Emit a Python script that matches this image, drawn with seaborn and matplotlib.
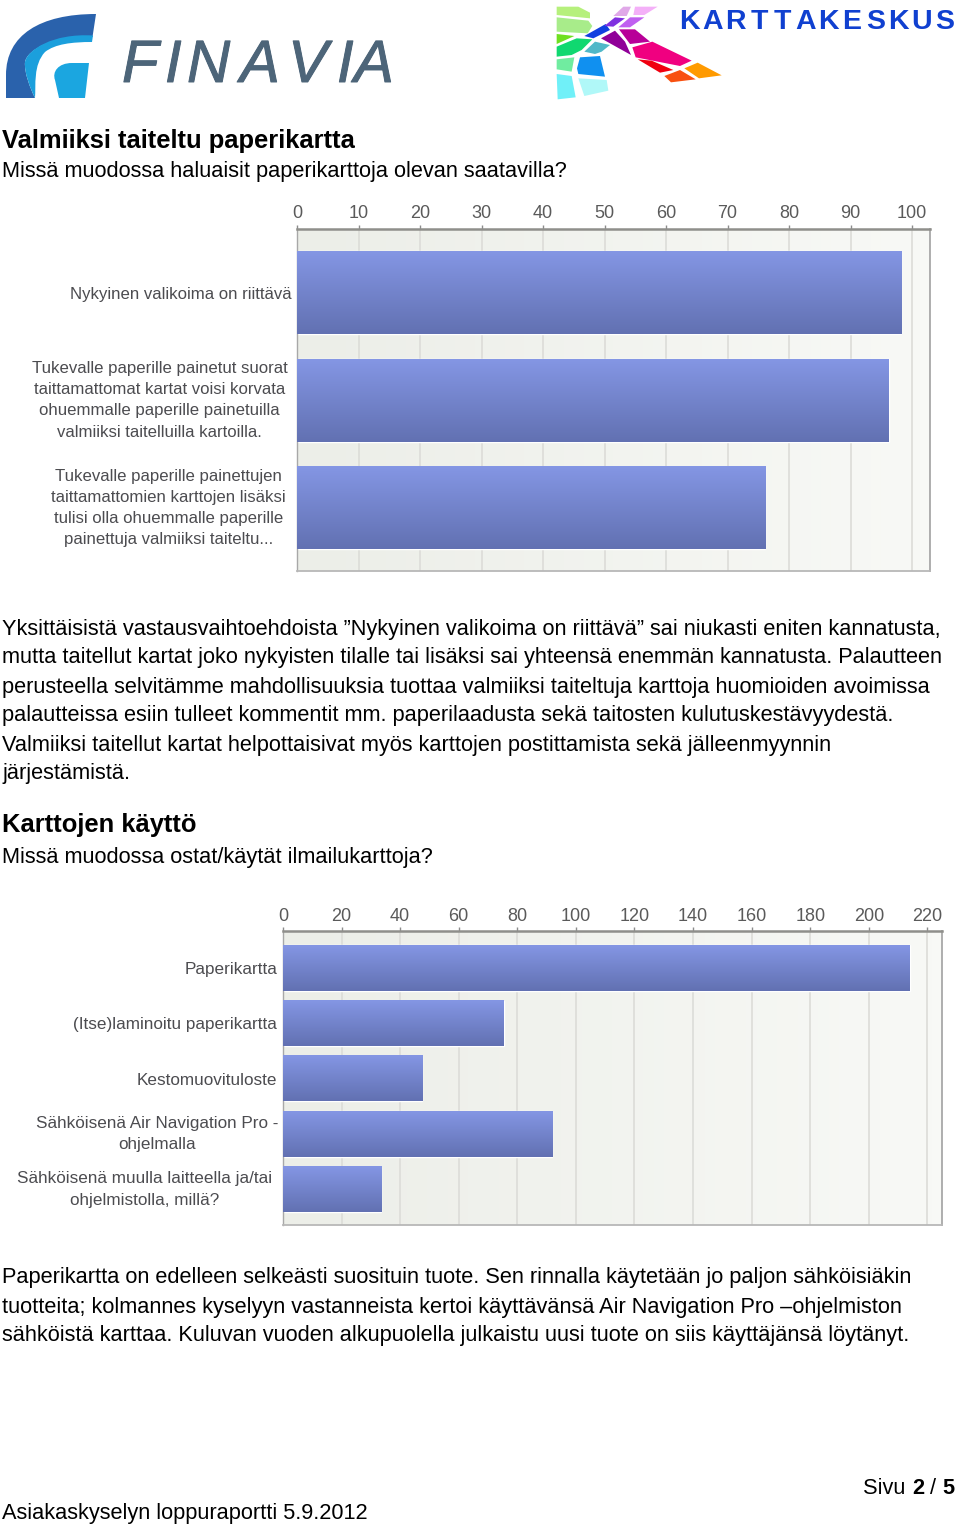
import matplotlib
matplotlib.use("Agg")
import matplotlib.pyplot as plt
import matplotlib.patheffects as pe
import numpy as np
import pandas as pd
import seaborn as sns
from matplotlib.colors import to_rgb
from matplotlib.patches import PathPatch, Polygon
from matplotlib.path import Path

# Data of both charts
folded_labels = [
    "Nykyinen valikoima on riittävä",
    "Tukevalle paperille painetut suorat\ntaittamattomat kartat voisi korvata\nohuemmalle paperille painetuilla\nvalmiiksi taitelluilla kartoilla.",
    "Tukevalle paperille painettujen\ntaittamattomien karttojen lisäksi\ntulisi olla ohuemmalle paperille\npainettuja valmiiksi taiteltu...",
]
folded_values = [98.2, 96.2, 76.1]
folded_ticks = [0, 10, 20, 30, 40, 50, 60, 70, 80, 90, 100]

usage_labels = [
    "Paperikartta",
    "(Itse)laminoitu paperikartta",
    "Kestomuovituloste",
    "Sähköisenä Air Navigation Pro -\nohjelmalla",
    "Sähköisenä muulla laitteella ja/tai\nohjelmistolla, millä?",
]
usage_values = [214, 75.4, 47.6, 92, 33.6]
usage_ticks = [0, 20, 40, 60, 80, 100, 120, 140, 160, 180, 200, 220]

W, H = 960, 1525
BODY = "Liberation Sans"

sns.set_theme(style="white")
plt.rcParams["font.family"] = [BODY, "DejaVu Sans"]

fig = plt.figure(figsize=(W / 100, H / 100), dpi=100, facecolor="white")


def gradient(c1, c2, horizontal=False):
    img = np.linspace(to_rgb(c1), to_rgb(c2), 64)
    return img[None, :, :] if horizontal else img[:, None, :]


def draw_chart(labels, values, ticks, box, xlim, ylim, bar_width, pads, label_size, tick_pad):
    left, top, right, bottom = box
    ax = fig.add_axes([left / W, 1 - bottom / H, (right - left) / W, (bottom - top) / H])
    df = pd.DataFrame({"label": labels, "value": values})
    sns.barplot(data=df, x="value", y="label", orient="h", color="#7282c8",
                width=bar_width, saturation=1, ax=ax)

    # the bars have a vertical gradient
    for bar in ax.patches:
        x0, y0, w, h = bar.get_x(), bar.get_y(), bar.get_width(), bar.get_height()
        ax.imshow(gradient("#8496e4", "#6271b2"), extent=(x0, x0 + w, y0 + h, y0),
                  origin="upper", aspect="auto", zorder=3)
    ax.imshow(gradient("#eceee8", "#f8f9f6", horizontal=True),
              extent=(xlim[0], xlim[1], ylim[1], ylim[0]),
              origin="upper", aspect="auto", zorder=0)

    ax.set_xlim(*xlim)
    ax.set_ylim(ylim[1], ylim[0])
    ax.set_xlabel("")
    ax.set_ylabel("")
    ax.set_xticks(ticks)
    ax.xaxis.tick_top()
    ax.grid(axis="x", color="#dcdcd8", linewidth=1.2)
    ax.set_axisbelow(True)
    ax.tick_params(axis="x", length=3, width=1, color="#8c8c8c", pad=tick_pad,
                   labelsize=13, labelcolor="#5a5a5a")
    ax.tick_params(axis="y", length=0, labelsize=label_size, labelcolor="#4c4c50")
    for lab in ax.get_yticklabels():
        lab.set_multialignment("center")
        lab.set_linespacing(1.52)
        if "\n" in lab.get_text():
            lab.set_verticalalignment("center")
    for tick, pad in zip(ax.yaxis.get_major_ticks(), pads):
        tick.set_pad(pad)

    for side, col, lw in [("top", "#8f8f8b", 1.8), ("right", "#a8a8a8", 1.3),
                          ("bottom", "#b8b8b8", 1.3), ("left", "#a8a8a8", 1.0)]:
        ax.spines[side].set_visible(True)
        ax.spines[side].set_color(col)
        ax.spines[side].set_linewidth(lw)
    return ax


draw_chart(folded_labels, folded_values, folded_ticks,
           (297, 229, 930, 571), (0, 102.9), (-0.59, 2.585), 0.77, [3.6, 7, 8], 12.05, 1.8)
draw_chart(usage_labels, usage_values, usage_ticks,
           (283, 931, 942, 1225), (0, 225), (-0.668, 4.64), 0.82, [4.3, 4.3, 4.3, 3.6, 8], 12.3, 1.0)

# Overlay in pixel coordinates for page text and logos
page = fig.add_axes([0, 0, 1, 1], zorder=-1)
page.set_xlim(0, W)
page.set_ylim(H, 0)
page.axis("off")


def curve(*segments, color):
    verts, codes = [], []
    for seg in segments:
        if len(seg) == 1:
            verts += seg
            codes += [Path.MOVETO if not codes else Path.LINETO]
        else:
            verts += seg
            codes += [Path.CURVE4] * 3
    verts.append(verts[0])
    codes.append(Path.CLOSEPOLY)
    page.add_patch(PathPatch(Path(verts, codes), facecolor=color, edgecolor="none"))


# Finavia logo
curve([(6, 98)], [(6, 75)], [(6, 35), (40, 14), (96, 14)], [(92.5, 37)],
      [(53, 35), (27, 50), (25, 62)], [(24, 72), (30, 88), (35, 98)], color="#2a62ac")
curve([(93, 35.5)], [(53, 33), (27, 50), (25, 62)], [(24, 72), (30, 88), (35, 98)],
      [(36, 85), (33, 65), (45, 52)], [(55, 44), (72, 42), (92, 42)], color="#1b9fdc")
curve([(89, 63)], [(72, 63)], [(58, 63), (52, 72), (55, 80)], [(59, 98)], [(85, 98)], color="#1ba6e0")
for ch, x in zip("FINAVIA", [122, 165, 187, 240, 288, 337, 354]):
    page.text(x, 82, ch, fontsize=43, style="italic", color="#4d6579", va="baseline", ha="left",
              path_effects=[pe.withStroke(linewidth=0.7, foreground="#4d6579")])

# Karttakeskus logo, points in zoomed crop coordinates
k_shapes = [
    ("#b6f07c", [(35, 20), (100, 20), (135, 38), (135, 55), (35, 45)]),
    ("#a8ec8a", [(35, 52), (130, 62), (142, 78), (128, 100), (35, 95)]),
    ("#6fe020", [(35, 102), (88, 108), (35, 132)]),
    ("#10d870", [(35, 140), (95, 115), (142, 118), (110, 150), (80, 165), (35, 170)]),
    ("#50b8c8", [(118, 155), (150, 125), (195, 135), (170, 155), (150, 162)]),
    ("#70eca0", [(35, 178), (88, 172), (80, 215), (35, 208)]),
    ("#1090f0", [(105, 172), (165, 168), (180, 230), (100, 222), (96, 205)]),
    ("#70f0f8", [(35, 222), (80, 228), (92, 292), (38, 298)]),
    ("#b0f8f8", [(100, 235), (185, 240), (190, 272), (118, 288)]),
    ("#1040e0", [(118, 108), (182, 72), (195, 90), (145, 115)]),
    ("#8030e0", [(178, 78), (210, 52), (240, 55), (205, 80)]),
    ("#e0a8e8", [(205, 48), (235, 20), (258, 20), (245, 48)]),
    ("#c060f0", [(220, 82), (255, 52), (298, 52), (255, 82)]),
    ("#f4b0f8", [(265, 45), (270, 20), (338, 20), (298, 45)]),
    ("#900098", [(168, 115), (210, 92), (240, 125), (258, 165)]),
    ("#b80098", [(222, 88), (270, 88), (315, 125), (255, 132)]),
    ("#f00080", [(262, 142), (322, 125), (440, 182), (405, 198), (272, 172)]),
    ("#f00010", [(278, 178), (320, 182), (385, 210), (345, 218)]),
    ("#f85010", [(358, 228), (405, 210), (452, 238), (378, 247)]),
    ("#ff9a00", [(418, 205), (458, 188), (530, 226), (462, 235)]),
]
for col, pts in k_shapes:
    page.add_patch(Polygon([(x / 3 + 545, y / 3) for x, y in pts], closed=True,
                           facecolor=col, edgecolor="none"))
for ch, x in zip("KARTTAKESKUS", np.linspace(689, 945, 12)):
    page.text(x, 29, ch, fontsize=20.5, fontweight="bold", color="#1040d0", ha="center", va="baseline")

# Page text
bold_lines = [("Valmiiksi taiteltu paperikartta", 141), ("Karttojen käyttö", 825)]
body_lines = [
    ("Missä muodossa haluaisit paperikarttoja olevan saatavilla?", 172),
    ("Yksittäisistä vastausvaihtoehdoista ”Nykyinen valikoima on riittävä” sai niukasti eniten kannatusta,", 630),
    ("mutta taitellut kartat joko nykyisten tilalle tai lisäksi sai yhteensä enemmän kannatusta. Palautteen", 658),
    ("perusteella selvitämme mahdollisuuksia tuottaa valmiiksi taiteltuja karttoja huomioiden avoimissa", 687),
    ("palautteissa esiin tulleet kommentit mm. paperilaadusta sekä taitosten kulutuskestävyydestä.", 716),
    ("Valmiiksi taitellut kartat helpottaisivat myös karttojen postittamista sekä jälleenmyynnin", 745),
    ("järjestämistä.", 774),
    ("Missä muodossa ostat/käytät ilmailukarttoja?", 857),
    ("Paperikartta on edelleen selkeästi suosituin tuote. Sen rinnalla käytetään jo paljon sähköisiäkin", 1278),
    ("tuotteita; kolmannes kyselyyn vastanneista kertoi käyttävänsä Air Navigation Pro –ohjelmiston", 1307),
    ("sähköistä karttaa. Kuluvan vuoden alkupuolella julkaistu uusi tuote on siis käyttäjänsä löytänyt.", 1336),
    ("Asiakaskyselyn loppuraportti 5.9.2012", 1514),
]
for txt, y in bold_lines:
    page.text(2, y, txt, fontsize=18.4, fontweight="bold", color="black", va="center", ha="left")
for txt, y in body_lines:
    page.text(2, y, txt, fontsize=15.66, color="black", va="center", ha="left")
page.text(863, 1489, "Sivu ", fontsize=15.66, color="black", va="center", ha="left")
page.text(912, 1489, "2", fontsize=15.66, fontweight="bold", color="black", va="center", ha="left")
page.text(930, 1489, "/", fontsize=15.66, color="black", va="center", ha="left")
page.text(942, 1489, "5", fontsize=15.66, fontweight="bold", color="black", va="center", ha="left")

fig.savefig("out.png", dpi=100, facecolor="white")
